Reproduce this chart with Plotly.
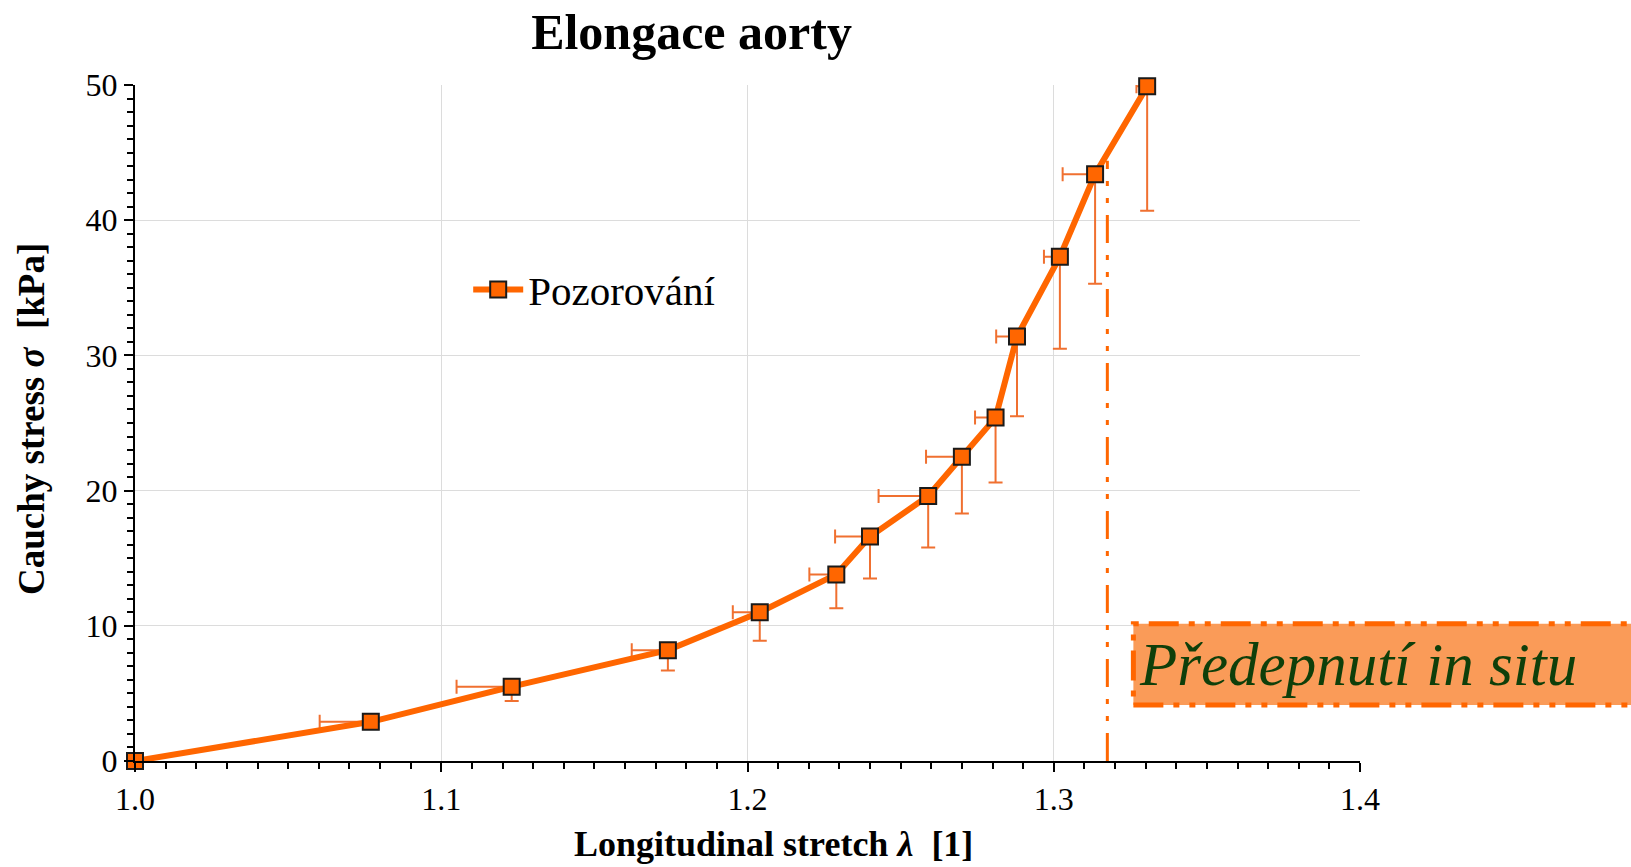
import plotly.graph_objects as go

# measured points: longitudinal stretch vs. Cauchy stress (kPa)
stretch = [1.000, 1.077, 1.123, 1.174, 1.204, 1.229, 1.240, 1.259, 1.270, 1.281, 1.288, 1.302, 1.3135, 1.3305]
stress = [0.0, 2.9, 5.5, 8.2, 11.0, 13.8, 16.6, 19.6, 22.5, 25.4, 31.4, 37.3, 43.4, 49.9]
stretch_err = [0, 0.0167, 0.018, 0.0118, 0.0088, 0.0088, 0.0114, 0.0162, 0.0117, 0.0067, 0.0068, 0.0052, 0.0106, 0.0035]
stress_err = [0, 0.0, 1.06, 1.5, 2.1, 2.5, 3.1, 3.8, 4.2, 4.8, 5.9, 6.8, 8.1, 9.2]

# in situ prestretch marker
insitu_x = [1.3175, 1.3175]
insitu_y = [0, 44.4]

ORANGE = "#FF6600"
FONT = "Liberation Serif"

fig = go.Figure()

fig.add_trace(go.Scatter(
    x=insitu_x, y=insitu_y, mode="lines", showlegend=False,
    line=dict(color=ORANGE, width=3, dash="28px,12px,5px,12px,5px,12px"),
    hoverinfo="skip",
))

fig.add_trace(go.Scatter(
    x=stretch, y=stress, mode="lines+markers", name="Pozorování",
    line=dict(color=ORANGE, width=6),
    marker=dict(symbol="square", size=16, color=ORANGE, line=dict(color="#1a1a1a", width=2)),
    error_x=dict(type="data", symmetric=False, array=[0] * len(stretch), arrayminus=stretch_err,
                 color="#F07030", thickness=2, width=7),
    error_y=dict(type="data", symmetric=False, array=[0] * len(stress), arrayminus=stress_err,
                 color="#F07030", thickness=2, width=7),
    cliponaxis=False,
))

# white patch behind the legend (hides grid lines there)
fig.add_shape(type="rect", xref="paper", yref="paper", x0=0.26, x1=0.491, y0=0.5, y1=0.86,
              fillcolor="white", line_width=0, layer="between")

# annotation box
fig.add_shape(type="rect", xref="paper", yref="paper", x0=0.815, x1=1.3, y0=0.083, y1=0.203,
              fillcolor="#FA9B58", line=dict(color=ORANGE, width=5, dash="30px,10px,6px,10px,6px,10px"),
              layer="above")
fig.add_annotation(xref="paper", yref="paper", x=0.818, y=0.143, xanchor="left", yanchor="middle",
                   text="<i>Předepnutí in situ</i>", showarrow=False,
                   font=dict(family=FONT, size=61, color="#0F3F0A"))

# axis titles (placed as annotations to match the original offsets)
fig.add_annotation(xref="paper", yref="paper", x=0.521, y=-0.123, xanchor="center", yanchor="middle",
                   text="<b>Longitudinal stretch <i>λ</i>  [1]</b>", showarrow=False,
                   font=dict(family=FONT, size=36, color="black"))
fig.add_annotation(xref="paper", yref="paper", x=-0.084, y=0.506, xanchor="center", yanchor="middle",
                   text="<b>Cauchy stress <i>σ</i>  [kPa]</b>", showarrow=False, textangle=-90,
                   font=dict(family=FONT, size=37, color="black"))

axis_common = dict(
    showline=True, linecolor="black", linewidth=2, mirror=False,
    showgrid=True, gridcolor="#DCDCDC", gridwidth=1,
    ticks="outside", ticklen=9, tickwidth=2, tickcolor="black",
    tickfont=dict(family=FONT, size=32, color="black"),
    zeroline=False, automargin=False,
)

fig.update_xaxes(
    range=[1.0, 1.4], dtick=0.1, tickformat=".1f",
    minor=dict(dtick=0.01, ticks="outside", ticklen=6, tickwidth=2, tickcolor="black", showgrid=False),
    **axis_common,
)
fig.update_yaxes(
    range=[0, 50], dtick=10,
    minor=dict(dtick=1, ticks="outside", ticklen=6, tickwidth=2, tickcolor="black", showgrid=False),
    **axis_common,
)

fig.update_layout(
    width=1631, height=867,
    margin=dict(l=135, r=271, t=85, b=106),
    paper_bgcolor="white", plot_bgcolor="white",
    title=dict(text="<b>Elongace aorty</b>", x=0.4543, xref="paper", xanchor="center",
               y=0.964, yref="container", yanchor="middle",
               font=dict(family=FONT, size=50, color="black")),
    legend=dict(x=0.272, y=0.697, xanchor="left", yanchor="middle", bgcolor="white",
                itemwidth=50, font=dict(family=FONT, size=41, color="black")),
    showlegend=True,
)

# drop the default page margin so the figure fills the window exactly
fig.write_html("out.html", config={"displayModeBar": False},
               post_script="document.body.style.margin='0';document.body.style.overflow='hidden';")
